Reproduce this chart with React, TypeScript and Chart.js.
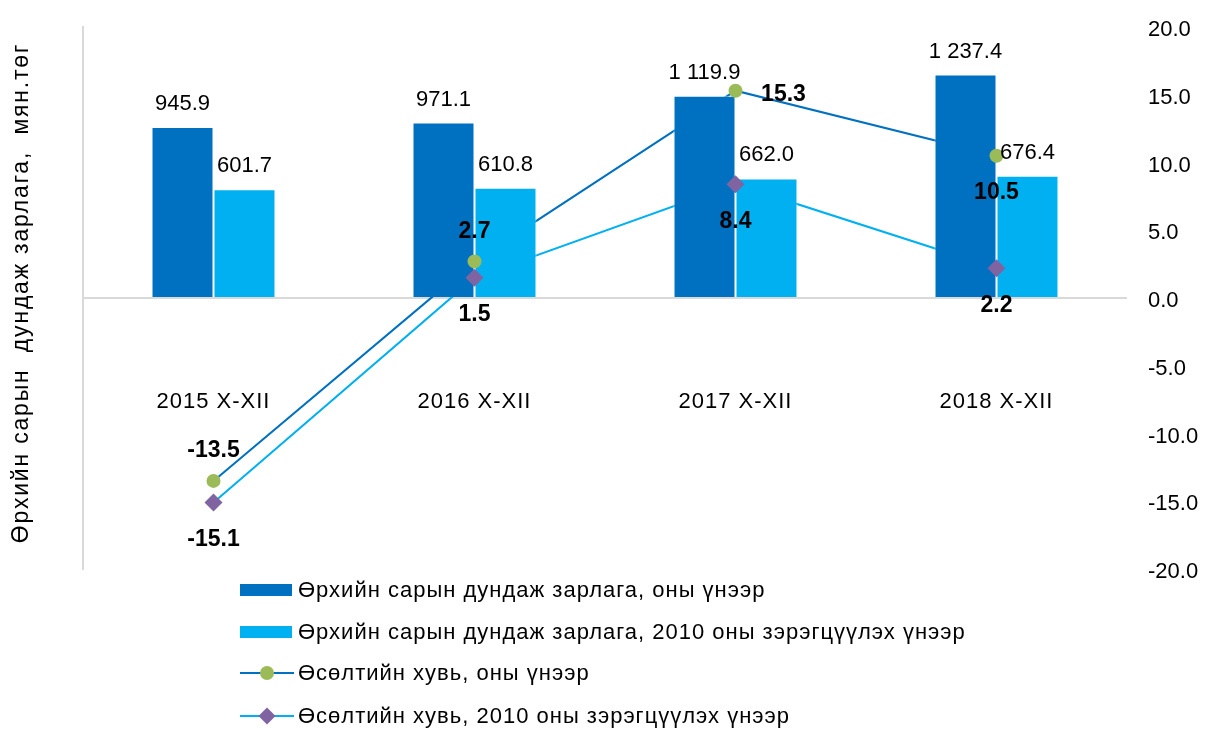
import React, { useEffect, useRef } from "react";
import { Chart, registerables } from "chart.js";

Chart.register(...registerables);

const categories = ["2015 X-XII", "2016 X-XII", "2017 X-XII", "2018 X-XII"];
const spendNominal = [945.9, 971.1, 1119.9, 1237.4];
const spendReal = [601.7, 610.8, 662.0, 676.4];
const growthNominal = [-13.5, 2.7, 15.3, 10.5];
const growthReal = [-15.1, 1.5, 8.4, 2.2];
const growthNominalLabelPos = ["top", "top", "right", "bottom"];
const growthRealLabelPos = ["bottom", "bottom", "bottom", "bottom"];
const rightTicks = [20, 15, 10, 5, 0, -5, -10, -15, -20];

const legendNames = [
  "Өрхийн сарын дундаж зарлага, оны үнээр",
  "Өрхийн сарын дундаж зарлага, 2010 оны зэрэгцүүлэх үнээр",
  "Өсөлтийн хувь,  оны үнээр",
  "Өсөлтийн хувь,  2010 оны зэрэгцүүлэх үнээр",
];
const axisTitle = "Өрхийн сарын  дундаж зарлага,  мян.төг";

const DARK = "#0070C0";
const LIGHT = "#00B0F0";
const GREEN = "#9BBB59";
const PURPLE = "#8064A2";
const FONT = "'Liberation Sans', Arial, sans-serif";

function fmt(v: number) {
  const s = v.toFixed(1);
  const [i, d] = s.split(".");
  return i.replace(/\B(?=(\d{3})+(?!\d))/g, " ") + "." + d;
}

const labelPlugin = {
  id: "labels",
  afterDatasetsDraw(chart: any) {
    const ctx = chart.ctx;
    ctx.save();
    ctx.textAlign = "center";
    ctx.textBaseline = "middle";
    ctx.fillStyle = "#000";
    // bar labels
    ctx.font = `22px ${FONT}`;
    [0, 1].forEach((di) => {
      const meta = chart.getDatasetMeta(di);
      const vals = di === 0 ? spendNominal : spendReal;
      meta.data.forEach((el: any, i: number) => {
        ctx.fillText(fmt(vals[i]), el.x, el.y - 23);
      });
    });
    // line labels
    ctx.font = `bold 23px ${FONT}`;
    [4, 5].forEach((di) => {
      const meta = chart.getDatasetMeta(di);
      const vals = di === 4 ? growthNominal : growthReal;
      const pos = di === 4 ? growthNominalLabelPos : growthRealLabelPos;
      meta.data.forEach((el: any, i: number) => {
        let x = el.x;
        let y = el.y;
        if (pos[i] === "top") y -= 30;
        else if (pos[i] === "bottom") y += 37;
        else if (pos[i] === "right") {
          x += 48;
          y += 4;
        }
        ctx.fillText(fmt(vals[i]), x, y);
      });
    });
    // category labels
    ctx.font = `22px ${FONT}`;
    try {
      ctx.letterSpacing = "1px";
    } catch (e) {}
    const xs = chart.scales.x;
    const y1 = chart.scales.y1;
    categories.forEach((c, i) => {
      ctx.fillText(c, xs.getPixelForValue(i), y1.getPixelForValue(-7.7));
    });
    // left axis title
    ctx.font = `23px ${FONT}`;
    try {
      ctx.letterSpacing = "1.8px";
    } catch (e) {}
    const ys = chart.scales.y;
    ctx.translate(22, (ys.top + ys.bottom) / 2 - 5);
    ctx.rotate(-Math.PI / 2);
    ctx.fillText(axisTitle, 0, 0);
    ctx.restore();
  },
};

function LegendSymbol({ kind }: { kind: number }) {
  if (kind === 0 || kind === 1) {
    return (
      <svg width={56} height={20} style={{ display: "block" }}>
        <rect x={0} y={4} width={52} height={12} fill={kind === 0 ? DARK : LIGHT} />
      </svg>
    );
  }
  return (
    <svg width={56} height={20} style={{ display: "block" }}>
      <line x1={0} y1={10} x2={54} y2={10} stroke={kind === 2 ? DARK : LIGHT} strokeWidth={2} />
      {kind === 2 ? (
        <circle cx={27} cy={10} r={7} fill={GREEN} />
      ) : (
        <rect x={21} y={4} width={12} height={12} fill={PURPLE} transform="rotate(45 27 10)" />
      )}
    </svg>
  );
}

export default function App() {
  const ref = useRef<HTMLCanvasElement | null>(null);

  useEffect(() => {
    if (!ref.current) return;
    const chart = new Chart(ref.current, {
      type: "bar",
      data: {
        labels: categories,
        datasets: [
          {
            type: "bar",
            data: spendNominal,
            backgroundColor: DARK,
            borderColor: "rgba(255,255,255,0.6)",
            borderWidth: 1,
            yAxisID: "y",
            order: 2,
            categoryPercentage: 0.475,
            barPercentage: 1,
          } as any,
          {
            type: "bar",
            data: spendReal,
            backgroundColor: LIGHT,
            borderColor: "rgba(255,255,255,0.6)",
            borderWidth: 1,
            yAxisID: "y",
            order: 2,
            categoryPercentage: 0.475,
            barPercentage: 1,
          } as any,
          {
            type: "line",
            data: growthNominal,
            borderColor: DARK,
            borderWidth: 2,
            pointRadius: 0,
            yAxisID: "y1",
            order: 3,
          },
          {
            type: "line",
            data: growthReal,
            borderColor: LIGHT,
            borderWidth: 2,
            pointRadius: 0,
            yAxisID: "y1",
            order: 3,
          },
          {
            type: "line",
            data: growthNominal,
            showLine: false,
            pointStyle: "circle",
            pointRadius: 7,
            pointBackgroundColor: GREEN,
            pointBorderWidth: 0,
            yAxisID: "y1",
            order: 1,
          },
          {
            type: "line",
            data: growthReal,
            showLine: false,
            pointStyle: "rectRot",
            pointRadius: 9,
            pointBackgroundColor: PURPLE,
            pointBorderWidth: 0,
            yAxisID: "y1",
            order: 1,
          },
        ],
      },
      options: {
        animation: false,
        responsive: false,
        layout: { padding: { top: 27, bottom: 162, left: 0, right: 0 } },
        plugins: { legend: { display: false }, tooltip: { enabled: false } },
        scales: {
          x: { display: false, offset: true },
          y: {
            position: "left",
            min: -1500,
            max: 1500,
            ticks: { display: false, stepSize: 500 },
            grid: {
              drawTicks: false,
              lineWidth: 2,
              color: (c: any) => (c.tick && c.tick.value === 0 ? "#D9D9D9" : "rgba(0,0,0,0)"),
            },
            border: { display: true, color: "#D9D9D9", width: 2 },
            afterFit: (s: any) => {
              s.width = 83;
            },
          },
          y1: {
            position: "right",
            min: -20,
            max: 20,
            afterBuildTicks: (s: any) => {
              s.ticks = rightTicks.map((v) => ({ value: v }));
            },
            ticks: {
              color: "#000",
              font: { family: FONT, size: 22 },
              padding: 1,
              labelOffset: 3,
              callback: (v: any) => Number(v).toFixed(1),
            },
            grid: { display: false, drawTicks: true, tickLength: 20 },
            border: { display: false },
            afterFit: (s: any) => {
              s.width = 88;
            },
          },
        },
      },
      plugins: [labelPlugin],
    });
    return () => chart.destroy();
  }, []);

  return (
    <div style={{ position: "fixed", left: 0, top: 0, width: 1215, height: 731, background: "#fff" }}>
      <canvas ref={ref} width={1215} height={731} style={{ display: "block" }} />
      {legendNames.map((name, i) => (
        <div
          key={i}
          style={{
            position: "absolute",
            left: 240,
            top: [590, 632, 673, 716][i] - 12,
            height: 24,
            display: "flex",
            alignItems: "center",
            fontFamily: FONT,
            fontSize: 22,
            letterSpacing: "1px",
            color: "#000",
            whiteSpace: "nowrap",
          }}
        >
          <LegendSymbol kind={i} />
          <span style={{ marginLeft: 2 }}>{name}</span>
        </div>
      ))}
    </div>
  );
}
